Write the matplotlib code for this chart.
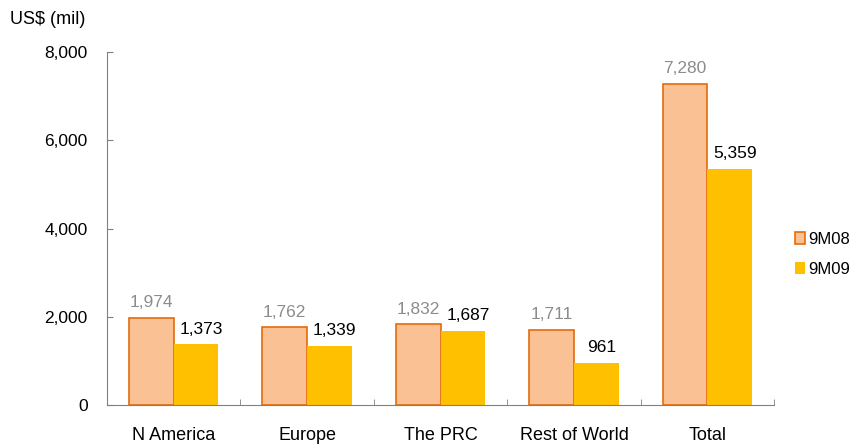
import matplotlib.pyplot as plt
import numpy as np
from matplotlib.patches import Patch

plt.rcParams['font.family'] = ['Liberation Sans', 'DejaVu Sans']

regions = ['N America', 'Europe', 'The PRC', 'Rest of World', 'Total']
sales_9m08 = [1974, 1762, 1832, 1711, 7280]
sales_9m09 = [1373, 1339, 1687, 961, 5359]

fig = plt.figure(figsize=(8.51, 4.46), dpi=100)
ax = fig.add_axes([0.1257, 0.092, 0.784, 0.791])

x = np.arange(len(regions))
w = 0.335
ax.bar(x - w / 2, sales_9m08, w, color='#F9C194', edgecolor='#E46C0A', linewidth=1.2)
ax.bar(x + w / 2, sales_9m09, w, color='#FFC000', linewidth=0)

# value labels above each bar
for xi, v in zip(x, sales_9m08):
    ax.text(xi - w / 2, v + 170, f'{v:,}', ha='center', va='bottom', fontsize=12.5, color='#8C8C8C')
for xi, v in zip(x, sales_9m09):
    ax.text(xi + w / 2 + 0.04, v + 170, f'{v:,}', ha='center', va='bottom', fontsize=12.5, color='black')

ax.set_xlim(-0.5, len(regions) - 0.5)
ax.set_ylim(0, 8000)
yt = [0, 2000, 4000, 6000, 8000]
ax.set_yticks(yt)
ax.set_yticklabels([f'{t:,}' for t in yt], fontsize=12.5)
ax.set_xticks(x)
ax.set_xticklabels(regions, fontsize=13)
ax.set_xticks(np.arange(len(regions) + 1) - 0.5, minor=True)
ax.tick_params(axis='x', which='major', length=0, pad=16)
ax.tick_params(axis='x', which='minor', length=4, color='#808080', direction='in')
ax.tick_params(axis='y', length=4, color='#808080', direction='in', pad=14)

for s in ['top', 'right']:
    ax.spines[s].set_visible(False)
for s in ['left', 'bottom']:
    ax.spines[s].set_color('#808080')

fig.text(0.012, 0.957, 'US$ (mil)', fontsize=13, va='center')

handles = [Patch(facecolor='#F9C194', edgecolor='#E46C0A', linewidth=1.2),
           Patch(facecolor='#FFC000', edgecolor='none')]
fig.legend(handles, ['9M08', '9M09'], loc='center left', bbox_to_anchor=(0.916, 0.43),
           frameon=False, fontsize=12, handlelength=0.6, handleheight=0.7,
           handletextpad=0.2, labelspacing=0.9)

fig.savefig('out.png', dpi=100)
